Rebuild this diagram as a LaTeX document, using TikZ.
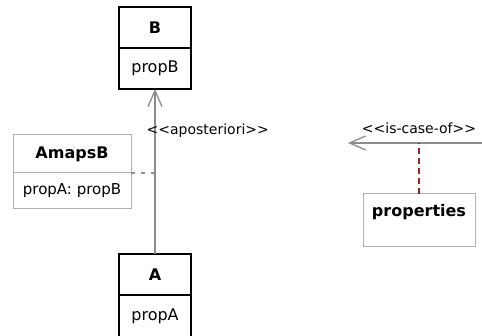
\documentclass[tikz,border=0pt]{standalone}
\usepackage{fontspec}
\setmainfont{DejaVu Sans}[Ligatures=TeXOff]
\usetikzlibrary{positioning,arrows.meta}
\definecolor{linegray}{RGB}{140,140,140}
\definecolor{boxgray}{RGB}{175,175,175}
\definecolor{linkred}{RGB}{155,35,35}

\begin{document}
\begin{tikzpicture}[x=1pt,y=-1pt,
        classhead/.style={draw,line width=1.2pt,outer sep=0pt,minimum width=72pt,minimum height=41pt,inner sep=0pt,font=\fontsize{16}{18}\selectfont\bfseries},
        classbody/.style={draw,line width=1.2pt,outer sep=0pt,minimum width=72pt,minimum height=41pt,inner sep=0pt,font=\fontsize{16}{18}\selectfont},
        maphead/.style={draw=boxgray,line width=1pt,outer sep=0pt,minimum width=118pt,minimum height=38pt,inner sep=0pt,font=\fontsize{16}{18}\selectfont\bfseries},
        mapbody/.style={draw=boxgray,line width=1pt,outer sep=0pt,minimum width=118pt,minimum height=36pt,inner sep=0pt,font=\fontsize{15}{17}\selectfont},
        assoc/.style={draw=linegray,line width=1.3pt,-{Straight Barb[length=16pt,width=14pt]}},
        stereo/.style={font=\fontsize{14}{16}\selectfont,inner sep=1pt}]
        \useasboundingbox (0,0) rectangle (482,336);
        \node[classhead] (B) at (155,27.5) {B};
        \node[classbody,below=0pt of B] (B-body) {propB};
        \node[classhead] (A) at (155,274.5) {A};
        \node[classbody,below=0pt of A,minimum height=43pt] (A-body) {propA};
        \node[maphead] (AmapsB) at (72,154) {AmapsB};
        \node[mapbody,below=0pt of AmapsB] (AmapsB-body) {propA: propB};
        \draw[assoc] (A.north) -- node[stereo,pos=0.745,anchor=west,xshift=-10pt] {<<aposteriori>>} (B-body.south);
        \draw[draw=linegray,line width=1.3pt,dash pattern=on 4pt off 6pt] (AmapsB-body.north east) -- (AmapsB-body.north east -| A.north);
        \coordinate (casefree) at (482,143);
        \coordinate (casetip) at (348,143);
        \draw[assoc] (casefree) -- node[stereo,pos=0.47,above=8pt] {<<is-case-of>>} (casetip);
        \node[draw=boxgray,line width=1pt,outer sep=0pt,minimum width=112pt,inner xsep=0pt,inner ysep=0pt,text height=23pt,text depth=30pt,font=\fontsize{16}{18}\selectfont\bfseries] (properties) at (419,220.5) {properties};
        \draw[linkred,line width=1.8pt,dash pattern=on 6pt off 4pt] (properties.north) -- (properties.north |- casetip);
    \end{tikzpicture}
\end{document}
